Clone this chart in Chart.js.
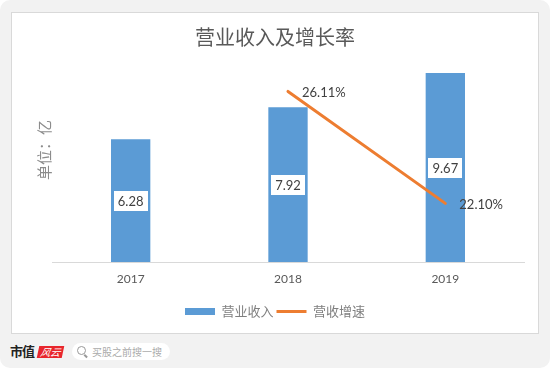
<!DOCTYPE html>
<html>
<head>
<meta charset="utf-8">
<script src="https://cdn.jsdelivr.net/npm/chart.js@4.4.1/dist/chart.umd.min.js"></script>
<style>
html,body{margin:0;padding:0;background:#fff;}
#wrap{position:relative;width:550px;height:369px;overflow:hidden;}
#card{position:absolute;left:0;top:0;width:550px;height:368px;background:#f2f2f2;border-radius:10px;}
#box{position:absolute;left:11px;top:12px;width:526px;height:320px;background:#fff;border:1px solid #d9d9d9;}
#c{position:absolute;left:0;top:0;}
#wm1{position:absolute;left:10px;top:342px;font:bold 13px "Noto Sans CJK SC";color:#222;line-height:18px;letter-spacing:-1px;}
#wm2{position:absolute;left:38px;top:346px;width:25px;height:12px;background:#e8262c;color:#fff;font:italic 10px "Noto Sans CJK SC";line-height:12px;text-align:center;transform:skewX(-12deg);}
#pill{position:absolute;left:72px;top:343px;width:98px;height:17px;border-radius:9px;background:#fff;}
#mag{position:absolute;left:5px;top:3px;width:7px;height:7px;border:1.5px solid #999;border-radius:50%;}
#mag:after{content:"";position:absolute;left:7px;top:7px;width:4px;height:1.5px;background:#999;transform:rotate(45deg);transform-origin:0 0;}
#ptxt{position:absolute;left:20px;top:0;font:10px "Noto Sans CJK SC";color:#aaa;line-height:17px;white-space:nowrap;}
</style>
</head>
<body>
<div id="wrap">
  <div id="card"></div>
  <div id="box"></div>
  <div id="wm1">市值</div>
  <div id="wm2">风云</div>
  <div id="pill"><div id="mag"></div><div id="ptxt">买股之前搜一搜</div></div>
  <canvas id="c" width="550" height="369"></canvas>
</div>
<script>
const titleText = '营业收入及增长率';
const yTitleText = '单位：亿';
const categories = ['2017', '2018', '2019'];
const revenue = [6.28, 7.92, 9.67];
const growth = [null, 26.11, 22.10];
const revenueLabels = ['6.28', '7.92', '9.67'];
const growthLabels = [null, '26.11%', '22.10%'];
const seriesNames = ['营业收入', '营收增速'];

const CJK = '"Noto Sans CJK SC", sans-serif';
const LAT = 'Lato, "Open Sans", sans-serif';

const labelPlugin = {
  id: 'valueLabels',
  afterDatasetsDraw(chart) {
    const ctx = chart.ctx;
    ctx.save();
    ctx.font = '13px ' + LAT;
    ctx.textBaseline = 'middle';
    const barMeta = chart.getDatasetMeta(0);
    barMeta.data.forEach((bar, i) => {
      const t = revenueLabels[i];
      const cx = bar.x, cy = (bar.y + bar.base) / 2;
      const w = ctx.measureText(t).width + 8, h = 20;
      ctx.fillStyle = '#fff';
      ctx.fillRect(Math.round(cx - w / 2), Math.round(cy - h / 2), Math.round(w), h);
      ctx.fillStyle = '#404040';
      ctx.textAlign = 'center';
      ctx.fillText(t, cx, cy + 1);
    });
    const lineMeta = chart.getDatasetMeta(1);
    lineMeta.data.forEach((pt, i) => {
      const t = growthLabels[i];
      if (!t || pt.skip) return;
      ctx.fillStyle = '#404040';
      ctx.textAlign = 'left';
      ctx.fillText(t, pt.x + 14, pt.y + 1);
    });
    ctx.restore();
  },
  afterDraw(chart) {
    const ctx = chart.ctx;
    ctx.save();
    ctx.translate(44, 150);
    ctx.rotate(-Math.PI / 2);
    ctx.font = '15px ' + CJK;
    ctx.fillStyle = '#8c8c8c';
    ctx.textAlign = 'center';
    ctx.textBaseline = 'middle';
    ctx.fillText(yTitleText, 0, 0);
    ctx.restore();
  }
};

new Chart(document.getElementById('c'), {
  data: {
    labels: categories,
    datasets: [
      {
        type: 'bar', label: seriesNames[0], data: revenue, yAxisID: 'y',
        backgroundColor: '#5B9BD5', borderWidth: 0,
        barPercentage: 0.25, categoryPercentage: 1, order: 2
      },
      {
        type: 'line', label: seriesNames[1], data: growth, yAxisID: 'y1',
        borderColor: '#ED7D31', backgroundColor: '#ED7D31', borderWidth: 3,
        pointRadius: 0, tension: 0, fill: false, order: 1, borderCapStyle: 'round'
      }
    ]
  },
  options: {
    responsive: false,
    animation: false,
    layout: { padding: { top: 0, left: 26, right: 26, bottom: 41 } },
    scales: {
      x: {
        offset: true,
        grid: { display: false, drawTicks: false },
        border: { display: true, color: '#d9d9d9', width: 1 },
        ticks: { color: '#595959', font: { family: LAT, size: 12 }, padding: 10 },
        afterFit: (s) => { s.height = 40; }
      },
      y: {
        position: 'left', min: 0, max: 10,
        grid: { display: false, drawTicks: false },
        border: { display: false },
        ticks: { display: false },
        afterFit: (s) => { s.width = 26; }
      },
      y1: {
        position: 'right', min: 20, max: 27, display: false
      }
    },
    plugins: {
      tooltip: { enabled: false },
      title: {
        display: true, text: titleText, color: '#595959',
        font: { family: CJK, size: 20, weight: 'normal', lineHeight: 1.2 },
        padding: { top: 25, bottom: 17.6 }
      },
      legend: {
        display: true, position: 'bottom',
        labels: {
          usePointStyle: true, pointStyleWidth: 30, boxHeight: 7, padding: 3,
          color: '#7f7f7f', font: { family: CJK, size: 13 },
          generateLabels: (chart) => chart.data.datasets.map((ds, i) => ({
            text: ds.label,
            fillStyle: ds.type === 'line' ? 'rgba(0,0,0,0)' : ds.backgroundColor,
            strokeStyle: ds.type === 'line' ? ds.borderColor : ds.backgroundColor,
            lineWidth: ds.type === 'line' ? 3 : 0,
            pointStyle: ds.type === 'line' ? 'line' : 'rect',
            fontColor: '#7f7f7f',
            hidden: false, datasetIndex: i
          }))
        }
      }
    }
  },
  plugins: [labelPlugin]
});
</script>
</body>
</html>
